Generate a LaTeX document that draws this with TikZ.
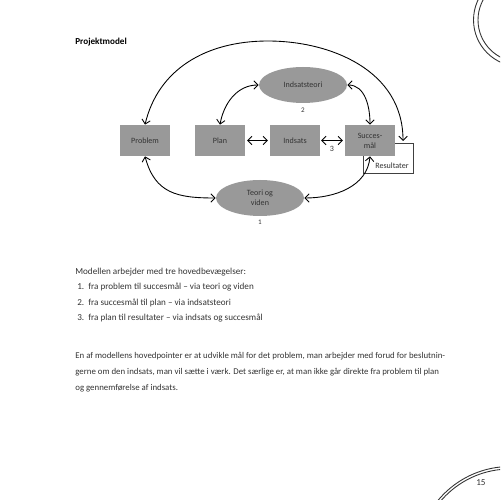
\documentclass[tikz,border=0pt]{standalone}
\usepackage{fontspec}
\setmainfont{Carlito}
\usepackage{xcolor}
\usetikzlibrary{shapes,arrows.meta}
\definecolor{boksgraa}{gray}{0.6}
\definecolor{tekst}{gray}{0.2}
\tikzstyle{boks}=[rectangle,fill=boksgraa,minimum width=1cm,minimum height=0.62cm,inner sep=0pt,text=tekst,align=center,font=\fontsize{4.6}{5.6}\selectfont]
\tikzstyle{teori}=[ellipse,fill=boksgraa,minimum width=1.76cm,minimum height=0.72cm,inner sep=0pt,text=tekst,align=center,font=\fontsize{4.6}{5.6}\selectfont]
\tikzstyle{pil}=[{Straight Barb[length=2.4pt,width=4.8pt]}-{Straight Barb[length=2.4pt,width=4.8pt]},line width=0.5pt]
\tikzstyle{tal}=[inner sep=0pt,text=tekst,font=\fontsize{4}{5}\selectfont]
\tikzstyle{brod}=[anchor=base west,inner sep=0pt,text=tekst,font=\fontsize{5.2}{9}\selectfont]

\begin{document}
\begin{tikzpicture}[x=0.02cm,y=0.02cm]
\useasboundingbox (0,0) rectangle (500,500);

% pynt i hjoernerne
\begin{scope}
  \clip (0,0) rectangle (500,500);
  \draw[line width=0.5pt, black!80] (520,480) circle[radius=0.93cm];
  \draw[line width=0.5pt, black!80] (520,480) circle[radius=0.84cm];
  \draw[line width=0.5pt, black!80] (510,-60) circle[radius=1.82cm];
  \draw[line width=0.5pt, black!80] (510,-60) circle[radius=1.87cm];
\end{scope}

\node[brod,text=black,font=\bfseries\fontsize{5.2}{9}\selectfont] (titel) at (75,455) {Projektmodel};

% modellen
\node[boks,minimum width=1cm,minimum height=0.6cm,fill=white,draw=black!75,line width=0.5pt] (resultater) at (388,342) {};
\node[tal,font=\fontsize{4.6}{5.6}\selectfont] (resultatertekst) at (392,334) {Resultater};

\node[boks] (problem) at (145,359.5) {Problem};
\node[boks] (plan) at (220,359.5) {Plan};
\node[boks] (indsats) at (295,359.5) {Indsats};
\node[boks] (succes) at (370,359.5) {Succes-\\mål};

\node[teori] (indsatsteori) at (303,415) {Indsatsteori};
\node[teori] (viden) at (260,302) {Teori og\\viden};

\node[tal] (to) at (303,390) {2};
\node[tal] (en) at (260,278) {1};
\node[tal,font=\fontsize{4.6}{5.6}\selectfont] (tre) at (332,351) {3};

\coordinate (top) at (268,459);
\coordinate (resin) at (403,359);

\draw[pil] (problem.north) .. controls (158,430) and (205,459) .. (top)
  .. controls (330,459) and (403,430) .. (resin);

\draw[pil,shorten <=1pt,shorten >=1pt] (plan.east) -- (indsats.west);
\draw[pil,shorten <=0.5pt,shorten >=1pt] (indsats.east) -- (succes.west);

\draw[pil] (plan.north) to[out=80,in=180] (indsatsteori.west);
\draw[pil] (indsatsteori.east) to[out=0,in=90] (succes.north);
\draw[pil] (problem.south) to[out=-75,in=180,looseness=1.2] (viden.west);
\draw[pil] (succes.south) to[out=-95,in=0] (viden.east);

% tekst
\node[brod] (indledning) at (75,225) {Modellen arbejder med tre hovedbevægelser:};
\node[brod] (nr1) at (77,210) {1.};
\node[brod] (punkt1) at (88,210) {fra problem til succesmål – via teori og viden};
\node[brod] (nr2) at (77,194) {2.};
\node[brod] (punkt2) at (88,194) {fra succesmål til plan – via indsatsteori};
\node[brod] (nr3) at (77,179) {3.};
\node[brod] (punkt3) at (88,179) {fra plan til resultater – via indsats og succesmål};

\node[brod,font=\fontsize{5.02}{9}\selectfont] (afsnit1) at (75,141) {En af modellens hovedpointer er at udvikle mål for det problem, man arbejder med forud for beslutnin-};
\node[brod,font=\fontsize{5.02}{9}\selectfont] (afsnit2) at (75,125) {gerne om den indsats, man vil sætte i værk. Det særlige er, at man ikke går direkte fra problem til plan};
\node[brod,font=\fontsize{5.02}{9}\selectfont] (afsnit3) at (75,109) {og gennemførelse af indsats.};

\node[brod] (side) at (476,14) {15};

\end{tikzpicture}
\end{document}
